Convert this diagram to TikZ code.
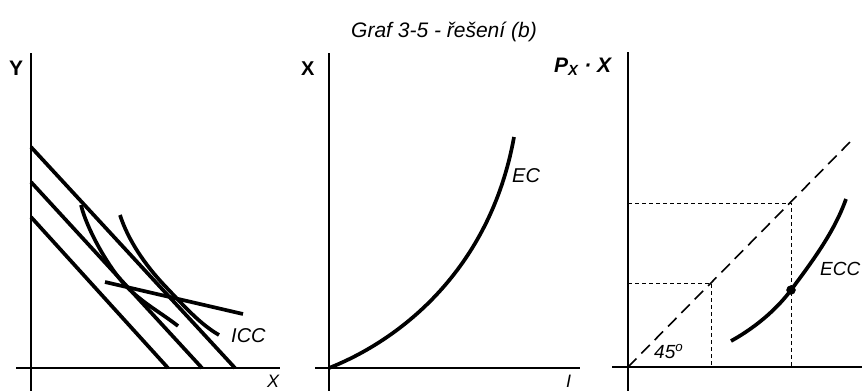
\documentclass[tikz,border=0pt]{standalone}
\usepackage{fontspec}
\setmainfont{Liberation Sans}

\tikzset{
	axis/.style={line width=1.4pt},
	curve/.style={line width=3.7pt},
	guide/.style={line width=1pt, dash pattern={on 4pt off 3pt}},
	diag/.style={line width=1.6pt, dash pattern={on 12pt off 7pt}},
	lbl/.style={inner sep=0pt, font=\fontsize{20}{24}\selectfont},
}

\begin{document}
\begin{tikzpicture}[x=1pt,y=1pt,yscale=-1,xscale=1]
	\useasboundingbox (0,0) rectangle (862,391);
	
	% Text Node
	\draw (444,37) node [anchor=base][inner sep=0pt] (title) {\fontsize{21}{25}\selectfont\itshape Graf 3-5 - řešení (b)};
	
	%Shape: Axis (left)
	\draw [axis] (31,53) -- (31,391) ;
	\draw [axis] (16,368) -- (280,368) ;
	%Shape: Budget lines
	\draw [curve] (31,147) -- (235,368) ;
	\draw [curve] (31,182) -- (202,368) ;
	\draw [curve] (31,217) -- (168,368) ;
	%Shape: Indifference curves
	\draw [curve] (81,205) .. controls (87,230) and (110,270) .. (127,287) .. controls (144,304) and (160,312) .. (178,326) ;
	\draw [curve] (120,215) .. controls (128,240) and (145,265) .. (165,286) .. controls (185,307) and (200,324) .. (219,335) ;
	%Shape: ICC
	\draw [curve] (105,282) -- (243,314) ;
	
	% Text Node
	\draw (9,75) node [anchor=base west][lbl] (yA) {\fontsize{21}{25}\selectfont\bfseries Y};
	% Text Node
	\draw (267,387) node [anchor=base west][lbl] (xA) {\fontsize{18}{22}\selectfont\itshape X};
	% Text Node
	\draw (231,342) node [anchor=base west][lbl] (icc) {\itshape ICC};
	
	%Shape: Axis (middle)
	\draw [axis] (329,53) -- (329,391) ;
	\draw [axis] (315,368) -- (580,368) ;
	%Shape: EC
	\draw [curve] (329,368) .. controls (400,340) and (490,270) .. (514,137) ;
	
	% Text Node
	\draw (301,75) node [anchor=base west][lbl] (xB) {\bfseries X};
	% Text Node
	\draw (566,387) node [anchor=base west][lbl] (iB) {\fontsize{18}{22}\selectfont\itshape I};
	% Text Node
	\draw (512,182) node [anchor=base west][lbl] (ec) {\itshape EC};
	
	%Shape: Axis (right)
	\draw [axis] (628,52) -- (628,391) ;
	\draw [axis] (612,367) -- (862,367) ;
	%Shape: 45 degree line
	\draw [diag] (628,367) -- (852,140) ;
	%Shape: Guides
	\draw [guide] (628,203) -- (791,203) -- (791,367) ;
	\draw [guide] (628,283) -- (711,283) -- (711,367) ;
	%Shape: ECC
	\draw [curve] (731,341) .. controls (760,325) and (780,305) .. (791,290) .. controls (815,258) and (835,230) .. (846,199) ;
	%Shape: Circle
	\draw [fill=black] (791,290) circle (4.5) ;
	
	% Text Node
	\draw (554,72) node [anchor=base west][lbl] (pxC) {\fontsize{21}{25}\selectfont\bfseries\itshape P\textsubscript{X}\;·\;X};
	% Text Node
	\draw (820,275) node [anchor=base west][lbl] (ecc) {\fontsize{19}{23}\selectfont\itshape ECC};
	% Text Node
	\draw (654,358) node [anchor=base west][lbl] (deg) {\fontsize{19}{23}\selectfont\itshape 45\textsuperscript{o}};
	
\end{tikzpicture}
\end{document}
